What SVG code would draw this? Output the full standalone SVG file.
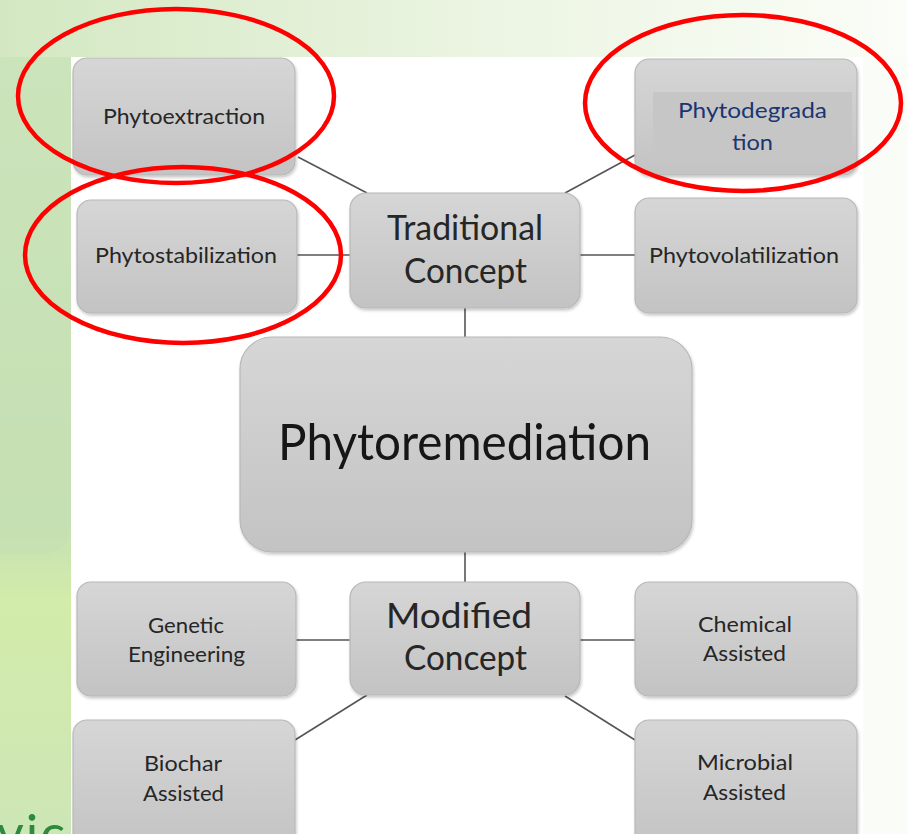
<svg xmlns="http://www.w3.org/2000/svg" width="907" height="834" viewBox="0 0 907 834">
<defs>
<linearGradient id="topbg" x1="0" y1="0" x2="1" y2="0">
<stop offset="0" stop-color="#d3e8c2"/>
<stop offset="0.5" stop-color="#eaf4e0"/>
<stop offset="1" stop-color="#fbfdf8"/>
</linearGradient>
<linearGradient id="leftbg" x1="0" y1="0" x2="0" y2="1">
<stop offset="0" stop-color="#d6eac6"/>
<stop offset="0.6" stop-color="#c6e0b4"/>
<stop offset="0.7" stop-color="#d2ecaa"/>
<stop offset="1" stop-color="#cde6b6"/>
</linearGradient>
<linearGradient id="nodeg" x1="0" y1="0" x2="0" y2="1">
<stop offset="0" stop-color="#d6d6d6"/>
<stop offset="1" stop-color="#c3c3c3"/>
</linearGradient>
<filter id="sh" x="-10%" y="-10%" width="120%" height="125%">
<feDropShadow dx="1" dy="2" stdDeviation="1.5" flood-color="#000" flood-opacity="0.22"/>
</filter>
</defs>
<style>
.node rect.box{fill:url(#nodeg);stroke:#b8b8b8;stroke-width:1.2;filter:url(#sh)}
.lbl{font-family:Lato,"Open Sans","Liberation Sans",sans-serif;fill:#262626;text-anchor:middle}
.s{font-size:22px}
.m{font-size:34px}
.l{font-size:50px;fill:#161616}
.conn line{stroke:#555;stroke-width:1.6}
.ring{fill:none;stroke:#ff0000;stroke-width:4.5}
</style>
<!-- background -->
<rect x="0" y="0" width="907" height="834" fill="#fafcf7"/>
<rect x="0" y="0" width="907" height="57" fill="url(#topbg)"/>
<rect x="0" y="57" width="71" height="777" fill="url(#leftbg)"/>
<path d="M0 57 H71 V520 Q71 555 36 555 H0 Z" fill="#c4dfb3" opacity="0.6"/>
<text x="-3" y="852" font-family="Lato,'Open Sans',sans-serif" font-size="52" letter-spacing="2" fill="#2c8a3c">vic</text>
<rect x="71" y="57" width="792" height="777" fill="#ffffff"/>

<g id="connectors" class="conn">
<line x1="298" y1="157" x2="367" y2="193"/>
<line x1="297" y1="255" x2="350" y2="255"/>
<line x1="565" y1="193" x2="635" y2="155"/>
<line x1="580" y1="255" x2="635" y2="255"/>
<line x1="465" y1="308" x2="465" y2="337"/>
<line x1="465" y1="552" x2="465" y2="582"/>
<line x1="296" y1="640" x2="350" y2="640"/>
<line x1="580" y1="640" x2="635" y2="640"/>
<line x1="367" y1="695" x2="295" y2="740"/>
<line x1="565" y1="696" x2="635" y2="740"/>
</g>

<g id="phytoextraction" class="node">
<rect class="box" x="73" y="58" width="222" height="117" rx="14"/>
<text class="lbl s" x="184" y="124" textLength="162" lengthAdjust="spacingAndGlyphs">Phytoextraction</text>
</g>
<g id="phytostabilization" class="node">
<rect class="box" x="77" y="200" width="220" height="113" rx="14"/>
<text class="lbl s" x="186" y="263" textLength="182" lengthAdjust="spacingAndGlyphs">Phytostabilization</text>
</g>
<g id="traditional" class="node">
<rect class="box" x="350" y="193" width="230" height="115" rx="16"/>
<text class="lbl m" x="465" y="240" textLength="156" lengthAdjust="spacingAndGlyphs">Traditional</text>
<text class="lbl m" x="465.5" y="283" textLength="123" lengthAdjust="spacingAndGlyphs">Concept</text>
</g>
<g id="phytodegradation" class="node">
<rect class="box" x="635" y="59" width="222" height="116" rx="14"/>
<rect x="653" y="92" width="199" height="65" fill="#c6c6c6"/>
<text class="lbl s" x="752.5" y="118" style="fill:#1c3570" textLength="149" lengthAdjust="spacingAndGlyphs">Phytodegrada</text>
<text class="lbl s" x="752.5" y="150" style="fill:#1c3570" textLength="41" lengthAdjust="spacingAndGlyphs">tion</text>
</g>
<g id="phytovolatilization" class="node">
<rect class="box" x="635" y="198" width="222" height="115" rx="14"/>
<text class="lbl s" x="744" y="263" textLength="190" lengthAdjust="spacingAndGlyphs">Phytovolatilization</text>
</g>
<g id="phytoremediation" class="node">
<rect class="box" x="240" y="337" width="452" height="215" rx="32"/>
<text class="lbl l" x="464.5" y="460" textLength="373" lengthAdjust="spacingAndGlyphs">Phytoremediation</text>
</g>
<g id="modified" class="node">
<rect class="box" x="350" y="582" width="230" height="113" rx="16"/>
<text class="lbl m" x="459" y="628" textLength="146" lengthAdjust="spacingAndGlyphs">Modified</text>
<text class="lbl m" x="465.5" y="670" textLength="123" lengthAdjust="spacingAndGlyphs">Concept</text>
</g>
<g id="genetic" class="node">
<rect class="box" x="77" y="582" width="219" height="114" rx="14"/>
<text class="lbl s" x="186" y="633" textLength="76" lengthAdjust="spacingAndGlyphs">Genetic</text>
<text class="lbl s" x="186.5" y="662" textLength="117" lengthAdjust="spacingAndGlyphs">Engineering</text>
</g>
<g id="biochar" class="node">
<rect class="box" x="73" y="720" width="222" height="130" rx="14"/>
<text class="lbl s" x="183" y="771" textLength="78" lengthAdjust="spacingAndGlyphs">Biochar</text>
<text class="lbl s" x="183.5" y="801" textLength="81" lengthAdjust="spacingAndGlyphs">Assisted</text>
</g>
<g id="chemical" class="node">
<rect class="box" x="635" y="582" width="222" height="114" rx="14"/>
<text class="lbl s" x="745" y="632" textLength="94" lengthAdjust="spacingAndGlyphs">Chemical</text>
<text class="lbl s" x="744.5" y="661" textLength="83" lengthAdjust="spacingAndGlyphs">Assisted</text>
</g>
<g id="microbial" class="node">
<rect class="box" x="635" y="720" width="222" height="130" rx="14"/>
<text class="lbl s" x="745" y="770" textLength="96" lengthAdjust="spacingAndGlyphs">Microbial</text>
<text class="lbl s" x="744.5" y="800" textLength="83" lengthAdjust="spacingAndGlyphs">Assisted</text>
</g>

<g id="highlights">
<ellipse class="ring" cx="176" cy="96" rx="158" ry="87"/>
<ellipse class="ring" cx="183" cy="255" rx="158" ry="88"/>
<ellipse class="ring" cx="743" cy="103" rx="158" ry="88"/>
</g>
</svg>
